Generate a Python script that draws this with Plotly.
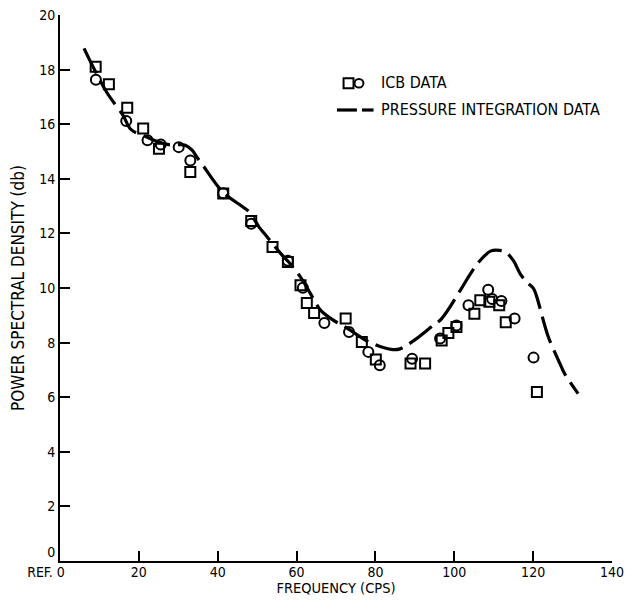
import plotly.graph_objects as go

FONT = "Liberation Sans Narrow, DejaVu Sans Condensed, Arial Narrow, sans-serif"

# ICB data, squares
sq_freq = [9.05, 12.4, 17.05, 21.1, 25.1, 33.05, 41.4, 48.5, 53.9, 57.8, 61.0, 62.6,
           64.45, 72.45, 76.55, 80.1, 88.9, 92.6, 96.8, 98.5, 100.55, 105.1, 106.6,
           108.9, 111.4, 113.05, 120.95]
sq_psd = [18.1, 17.46, 16.6, 15.84, 15.1, 14.25, 13.46, 12.45, 11.5, 10.95, 10.1, 9.45,
          9.08, 8.88, 8.02, 7.38, 7.23, 7.23, 8.08, 8.35, 8.57, 9.06, 9.55,
          9.5, 9.37, 8.75, 6.19]

# ICB data, circles
ci_freq = [9.1, 16.8, 22.2, 25.55, 30.1, 33.05, 41.4, 48.5, 57.8, 61.6, 67.05, 73.3,
           78.2, 81.1, 89.3, 96.4, 100.55, 103.6, 108.6, 109.6, 111.95, 115.3, 120.1]
ci_psd = [17.63, 16.12, 15.41, 15.26, 15.16, 14.67, 13.47, 12.35, 11.0, 10.01, 8.72, 8.39,
          7.66, 7.17, 7.41, 8.15, 8.63, 9.37, 9.94, 9.6, 9.52, 8.88, 7.45]

# pressure integration curve
pi_freq = [6.1, 8.05, 11.8, 15.95, 18.05, 21.4, 24.0, 27.6, 30.0, 31.8, 33.5, 34.7,
           36.4, 41.4, 46.4, 48.0, 50.5, 52.2, 56.0, 58.0, 61.0, 64.7, 66.0, 69.0,
           72.6, 78.4, 84.0, 86.0, 90.0, 94.4, 96.8, 101.8, 104.0, 106.5, 109.3,
           111.5, 113.0, 115.0, 116.8, 118.5, 120.1, 120.8, 123.0, 124.0, 127.2,
           128.0, 131.4]
pi_psd = [18.78, 18.2, 17.18, 16.33, 15.8, 15.57, 15.4, 15.25, 15.25, 15.23, 15.05, 14.8,
          14.46, 13.5, 12.97, 12.78, 12.23, 11.93, 11.26, 10.95, 10.4, 9.5, 9.2, 8.85,
          8.55, 8.02, 7.75, 7.76, 8.1, 8.6, 8.88, 9.98, 10.5, 11.0, 11.36,
          11.38, 11.32, 11.0, 10.5, 10.2, 9.98, 9.73, 8.6, 8.15, 7.1,
          6.86, 6.13]

x_ticks = [0, 20, 40, 60, 80, 100, 120, 140]
x_labels = ["REF. 0" + "&nbsp;" * 7, "20", "40", "60", "80", "100", "120", "140"]
y_ticks = [0, 2, 4, 6, 8, 10, 12, 14, 16, 18, 20]
# the 0 on the y axis sits a little above the axis line, clear of "REF. 0"
y_labels = ["0<br>&nbsp;", "2", "4", "6", "8", "10", "12", "14", "16", "18", "20"]

fig = go.Figure()

fig.add_trace(go.Scatter(
    x=pi_freq, y=pi_psd, mode="lines", line_shape="spline",
    line=dict(color="black", width=3.2, dash="28px,8px"),
    showlegend=False,
))
fig.add_trace(go.Scatter(
    x=sq_freq, y=sq_psd, mode="markers",
    marker=dict(symbol="square-open", size=10, color="black", line=dict(width=2)),
    showlegend=False,
))
fig.add_trace(go.Scatter(
    x=ci_freq, y=ci_psd, mode="markers",
    marker=dict(symbol="circle-open", size=10, color="black", line=dict(width=2)),
    showlegend=False,
))

# hand drawn legend
fig.add_shape(type="rect", xref="paper", yref="paper",
              x0=0.5137, x1=0.5317, y0=0.866, y1=0.884,
              line=dict(color="black", width=2))
fig.add_shape(type="circle", xref="paper", yref="paper",
              x0=0.5335, x1=0.5497, y0=0.867, y1=0.883,
              line=dict(color="black", width=2))
fig.add_shape(type="line", xref="paper", yref="paper",
              x0=0.5017, x1=0.5379, y0=0.826, y1=0.826,
              line=dict(color="black", width=3.2))
fig.add_shape(type="line", xref="paper", yref="paper",
              x0=0.547, x1=0.568, y0=0.826, y1=0.826,
              line=dict(color="black", width=3.2))
fig.add_annotation(text="ICB DATA", xref="paper", yref="paper", x=0.578, y=0.876,
                   xanchor="left", yanchor="middle", showarrow=False,
                   font=dict(family=FONT, size=16, color="black"))
fig.add_annotation(text="PRESSURE INTEGRATION DATA", xref="paper", yref="paper",
                   x=0.578, y=0.827, xanchor="left", yanchor="middle", showarrow=False,
                   font=dict(family=FONT, size=16, color="black"))

# page body adds an 8px margin, so the figure is a bit smaller than the window
fig.update_layout(
    width=616, height=589,
    margin=dict(l=51.5, r=12, t=7, b=36.3),
    plot_bgcolor="white", paper_bgcolor="white",
    font=dict(family=FONT, size=14, color="black"),
)
fig.update_xaxes(
    range=[0, 140], tickvals=x_ticks, ticktext=x_labels, automargin=False,
    showline=True, linecolor="black", linewidth=2,
    ticks="inside", ticklen=10, tickwidth=2, tickcolor="black",
    ticklabelstandoff=-3, tickfont=dict(size=14), ticklabeloverflow="allow",
    showgrid=False, zeroline=False,
    title=dict(text="FREQUENCY (CPS)", standoff=1, font=dict(size=14.5)),
)
fig.update_yaxes(
    range=[0, 20], tickvals=y_ticks, ticktext=y_labels, automargin=False,
    showline=True, linecolor="black", linewidth=2,
    ticks="inside", ticklen=10, tickwidth=2, tickcolor="black",
    tickfont=dict(size=14), ticklabeloverflow="allow",
    showgrid=False, zeroline=False,
    title=dict(text="POWER SPECTRAL DENSITY (db)", standoff=11, font=dict(size=17)),
)

fig.write_html("out.html")
